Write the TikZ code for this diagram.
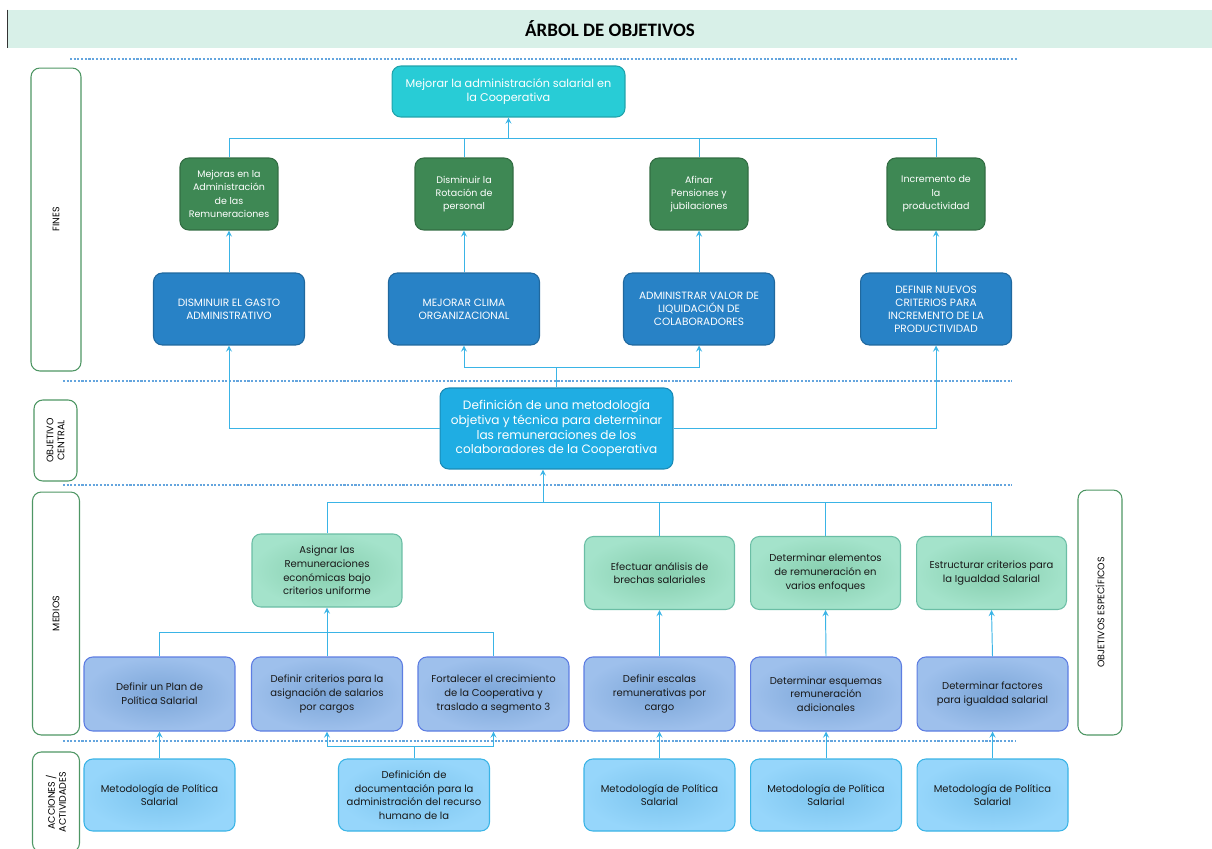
\documentclass[tikz,border=0pt]{standalone}
\usepackage{fontspec}
\setmainfont{Poppins}
\newfontfamily\titlefont{Carlito}
\usepackage{xcolor}
\usetikzlibrary{calc}

\definecolor{title fill}{RGB}{216,240,232}
\definecolor{purpose cyan}{RGB}{40,204,214}
\definecolor{fin green}{RGB}{62,136,84}
\definecolor{effect blue}{RGB}{40,130,198}
\definecolor{central blue}{RGB}{31,173,227}
\definecolor{mean inner}{RGB}{134,206,174}
\definecolor{mean outer}{RGB}{164,227,203}
\definecolor{sub inner}{RGB}{124,166,216}
\definecolor{sub outer}{RGB}{158,192,236}
\definecolor{action inner}{RGB}{124,196,238}
\definecolor{action outer}{RGB}{150,214,251}
\definecolor{link blue}{RGB}{58,180,230}
\definecolor{separator blue}{RGB}{100,165,222}
\definecolor{side green}{RGB}{78,150,100}

\begin{document}
\begin{tikzpicture}[x = 0.02cm, y = -0.02cm,
		box/.style = {draw, rounded corners = 5pt, align = center, inner sep = 1pt, line width = 0.6pt},
		purpose/.style = {box, fill = purpose cyan, draw = purpose cyan!80!black, text = white, minimum width = 4.66cm, minimum height = 1.02cm, font = \fontsize{6.4}{8.5}\selectfont},
		fin/.style = {box, fill = fin green, draw = fin green!80!black, text = white, minimum width = 1.96cm, minimum height = 1.44cm, font = \fontsize{5.4}{7.6}\selectfont},
		effect/.style = {box, fill = effect blue, draw = effect blue!80!black, text = white, minimum width = 3.02cm, minimum height = 1.44cm, font = \fontsize{6}{7.4}\selectfont},
		central/.style = {box, fill = central blue, draw = central blue!80!black, text = white, minimum width = 4.66cm, minimum height = 1.62cm, font = \fontsize{6.9}{8.3}\selectfont},
		mean/.style = {box, inner color = mean inner, outer color = mean outer, draw = mean inner!80!teal, text = black!90, minimum width = 3.0cm, minimum height = 1.46cm, font = \fontsize{5.7}{7.8}\selectfont},
		sub/.style = {box, inner color = sub inner, outer color = sub outer, draw = sub inner!75!blue, text = black!90, minimum width = 3.02cm, minimum height = 1.48cm, font = \fontsize{5.7}{7.8}\selectfont},
		action/.style = {box, inner color = action inner, outer color = action outer, draw = link blue, text = black!90, minimum width = 3.02cm, minimum height = 1.44cm, font = \fontsize{5.7}{7.8}\selectfont},
		side/.style = {draw = side green, rounded corners = 5pt, line width = 0.6pt, align = center, inner sep = 0pt, rotate = 90, font = \fontsize{5.4}{6.2}\selectfont},
		link/.style = {draw = link blue, line width = 0.55pt},
		arrow/.style = {link, -stealth},
		separator/.style = {draw = separator blue, line width = 0.6pt, dash pattern = on 1.2pt off 0.9pt}
	]
	\clip (0,0) rectangle (1212,848);
	
	%title
	\node [fill = title fill, minimum width = 24.08cm, minimum height = 0.76cm, inner sep = 0pt, font = \titlefont\bfseries\fontsize{10.8}{12}\selectfont] (title) at (610,29) {ÁRBOL DE OBJETIVOS};
	\draw [line width = 0.6pt, black!80] (title.north west) -- (title.south west);
	
	%separators
	\draw [separator] (70,59) -- (1018,59);
	\draw [separator] (63,381) -- (1012,381);
	\draw [separator] (63,485) -- (1012,485);
	\draw [separator] (63,741) -- (1015,741);
	
	%side labels
	\node [side, minimum width = 6.06cm, minimum height = 1.0cm] (fines label) at (56,219.5) {FINES};
	\node [side, minimum width = 1.62cm, minimum height = 0.86cm] (central label) at (55.5,440.5) {OBJETIVO\\CENTRAL};
	\node [side, minimum width = 4.86cm, minimum height = 0.94cm] (means label) at (56,613.5) {MEDIOS};
	\node [side, minimum width = 2.0cm, minimum height = 0.94cm] (actions label) at (56,802) {ACCIONES /\\ACTIVIDADES};
	\node [side, minimum width = 4.9cm, minimum height = 0.88cm] (specific label) at (1100,612.5) {OBJETIVOS ESPECÍFICOS};
	
	%purpose and fines
	\node [purpose] (purpose) at (508.5,91.5) {Mejorar la administración salarial en\\la Cooperativa};
	
	\node [fin] (fin 1) at (229,194) {Mejoras en la\\Administración\\de las\\Remuneraciones};
	\node [fin] (fin 2) at (464,194) {Disminuir la\\Rotación de\\personal};
	\node [fin] (fin 3) at (699,194) {Afinar\\Pensiones y\\jubilaciones};
	\node [fin] (fin 4) at (936,194) {Incremento de\\la\\productividad};
	
	\node [effect] (effect 1) at (229,309) {DISMINUIR EL GASTO\\ADMINISTRATIVO};
	\node [effect] (effect 2) at (464,309) {MEJORAR CLIMA\\ORGANIZACIONAL};
	\node [effect] (effect 3) at (699,309) {ADMINISTRAR VALOR DE\\LIQUIDACIÓN DE\\COLABORADORES};
	\node [effect] (effect 4) at (936,309) {DEFINIR NUEVOS\\CRITERIOS PARA\\INCREMENTO DE LA\\PRODUCTIVIDAD};
	
	%central objective
	\node [central] (central) at (556.5,428.5) {Definición de una metodología\\objetiva y técnica para determinar\\las remuneraciones de los\\colaboradores de la Cooperativa};
	
	%means
	\node [mean] (mean 1) at (327,570.5) {Asignar las\\Remuneraciones\\económicas bajo\\criterios uniforme};
	\node [mean] (mean 2) at (659.5,573) {Efectuar análisis de\\brechas salariales};
	\node [mean] (mean 3) at (825.5,573) {Determinar elementos\\de remuneración en\\varios enfoques};
	\node [mean] (mean 4) at (991.5,573) {Estructurar criterios para\\la Igualdad Salarial};
	
	\node [sub] (sub 1) at (159.5,694) {Definir un Plan de\\Política Salarial};
	\node [sub] (sub 2) at (327,694) {Definir criterios para la\\asignación de salarios\\por cargos};
	\node [sub] (sub 3) at (493.5,694) {Fortalecer el crecimiento\\de la Cooperativa y\\traslado a segmento 3};
	\node [sub] (sub 4) at (659.5,694) {Definir escalas\\remunerativas por\\cargo};
	\node [sub] (sub 5) at (826,694) {Determinar esquemas\\remuneración\\adicionales};
	\node [sub] (sub 6) at (992.5,694) {Determinar factores\\para igualdad salarial};
	
	%actions
	\node [action] (action 1) at (159.5,795) {Metodología de Política\\Salarial};
	\node [action] (action 2) at (414,795) {Definición de\\documentación para la\\administración del recurso\\humano de la};
	\node [action] (action 3) at (659.5,795) {Metodología de Política\\Salarial};
	\node [action] (action 4) at (826,795) {Metodología de Política\\Salarial};
	\node [action] (action 5) at (992.5,795) {Metodología de Política\\Salarial};
	
	%connectors
	\coordinate (fines junction) at (purpose.south |- 0,138);
	\draw [link] (fin 1.north) |- (fin 4.north |- fines junction) -- (fin 4.north);
	\draw [link] (fin 2.north) -- (fin 2.north |- fines junction);
	\draw [link] (fin 3.north) -- (fin 3.north |- fines junction);
	\draw [arrow] (fines junction) -- (purpose.south);
	
	\foreach \i in {1,...,4}
		\draw [arrow] (effect \i.north) -- (fin \i.south);
	
	\coordinate (effects junction) at (central.north |- 0,367);
	\draw [link] (central.north) -- (effects junction);
	\draw [arrow] (effects junction) -| (effect 2.south);
	\draw [arrow] (effects junction) -| (effect 3.south);
	\draw [arrow] (central.west) -| (effect 1.south);
	\draw [arrow] (central.east) -| (effect 4.south);
	
	\coordinate (means junction) at (543,502);
	\draw [arrow] (means junction) -- (means junction |- central.south);
	\draw [link] (mean 1.north) |- (mean 4.north |- means junction) -- (mean 4.north);
	\draw [link] (mean 2.north) -- (mean 2.north |- means junction);
	\draw [link] (mean 3.north) -- (mean 3.north |- means junction);
	
	\coordinate (sub junction) at (mean 1.south |- 0,632);
	\draw [arrow] (sub junction) -- (mean 1.south);
	\draw [link] (sub 1.north) |- (sub 3.north |- sub junction) -- (sub 3.north);
	\draw [link] (sub 2.north) -- (sub junction);
	\foreach \i/\j in {4/2, 5/3, 6/4}
		\draw [arrow] (sub \i.north) -- (mean \j.south);
	
	\coordinate (actions junction) at (action 2.north |- 0,746);
	\draw [link] (action 2.north) -- (actions junction);
	\draw [arrow] (actions junction) -| (sub 2.south);
	\draw [arrow] (actions junction) -| (sub 3.south);
	\draw [arrow] (action 1.north) -- (sub 1.south);
	\foreach \i/\j in {3/4, 4/5, 5/6}
		\draw [arrow] (action \i.north) -- (sub \j.south);
\end{tikzpicture}
\end{document}
